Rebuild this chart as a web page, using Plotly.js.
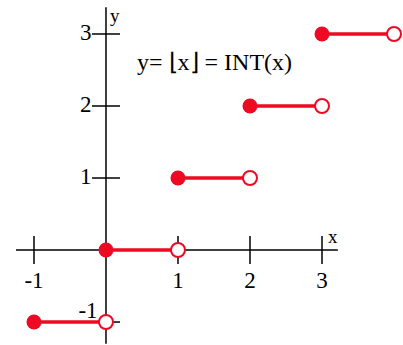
<!DOCTYPE html>
<html>
<head>
<meta charset="utf-8">
<script src="https://cdn.plot.ly/plotly-3.0.1.min.js"></script>
<style>html, body { margin: 0; padding: 0; background: #fff; }</style>
</head>
<body>
<div id="chart" style="width:403px;height:345px"></div>
<script>
// y = floor(x) steps
var stepStart = [-1, 0, 1, 2, 3]
var stepEnd = [0, 1, 2, 3, 4]
var stepValue = [-1, 0, 1, 2, 3]

var xTicks = [-1, 1, 2, 3]
var xTickLabels = ['-1', '1', '2', '3']
var yTicks = [-1, 1, 2, 3]
var yTickLabels = ['-1', '1', '2', '3']

var red = '#ee0a22'
var font = 'Liberation Serif, Times New Roman, serif'

// red segments, broken with nulls
var segX = []
var segY = []
for (var i = 0; i < stepStart.length; i++) {
  segX.push(stepStart[i], stepEnd[i], null)
  segY.push(stepValue[i], stepValue[i], null)
}

var data = [
  // axes
  { x: [-1.25, 3.22], y: [0, 0], mode: 'lines', line: { color: '#000', width: 1.5 }, hoverinfo: 'skip' },
  { x: [0, 0], y: [-1.3, 3.37], mode: 'lines', line: { color: '#000', width: 1.5 }, hoverinfo: 'skip' },
  // tick marks
  {
    x: xTicks, y: xTicks.map(function () { return 0 }),
    mode: 'markers', hoverinfo: 'skip',
    marker: { symbol: 'line-ns-open', size: 20, color: '#000', line: { color: '#000', width: 1.5 } }
  },
  {
    x: yTicks.map(function () { return 0 }), y: yTicks,
    mode: 'markers', hoverinfo: 'skip',
    marker: { symbol: 'line-ew-open', size: 20, color: '#000', line: { color: '#000', width: 1.5 } }
  },
  // tick labels
  {
    x: xTicks, y: xTicks.map(function () { return -0.45 }),
    mode: 'text', text: xTickLabels, hoverinfo: 'skip',
    textfont: { family: font, size: 23, color: '#000' }
  },
  {
    x: yTicks.map(function (v) { return v < 0 ? -0.25 : -0.28 }),
    y: yTicks.map(function (v) { return v < 0 ? v + 0.14 : v }),
    mode: 'text', text: yTickLabels, hoverinfo: 'skip',
    textfont: { family: font, size: 23, color: '#000' }
  },
  // step lines
  { x: segX, y: segY, mode: 'lines', line: { color: red, width: 3.5 }, hoverinfo: 'skip' },
  // closed ends
  {
    x: stepStart, y: stepValue, mode: 'markers', hoverinfo: 'skip',
    marker: { color: red, size: 15, line: { color: red, width: 0 } }
  },
  // open ends
  {
    x: stepEnd, y: stepValue, mode: 'markers', hoverinfo: 'skip',
    marker: { color: '#fff', size: 14, line: { color: red, width: 2 } }
  }
]

var layout = {
  width: 403,
  height: 345,
  margin: { l: 0, r: 0, t: 0, b: 0 },
  showlegend: false,
  paper_bgcolor: '#fff',
  plot_bgcolor: '#fff',
  xaxis: { range: [-1.472, 4.125], visible: false, fixedrange: true },
  yaxis: { range: [-1.319, 3.472], visible: false, fixedrange: true },
  annotations: [
    { x: 1.51, y: 2.61, xref: 'x', yref: 'y', text: 'y= \u230Ax\u230B = INT(x)', showarrow: false,
      font: { family: font, size: 24, color: '#000' } },
    { x: 3.15, y: 0.19, xref: 'x', yref: 'y', text: 'x', showarrow: false,
      font: { family: font, size: 19, color: '#000' } },
    { x: 0.12, y: 3.25, xref: 'x', yref: 'y', text: 'y', showarrow: false,
      font: { family: font, size: 19, color: '#000' } }
  ]
}

Plotly.newPlot('chart', data, layout, { staticPlot: true })
</script>
</body>
</html>
